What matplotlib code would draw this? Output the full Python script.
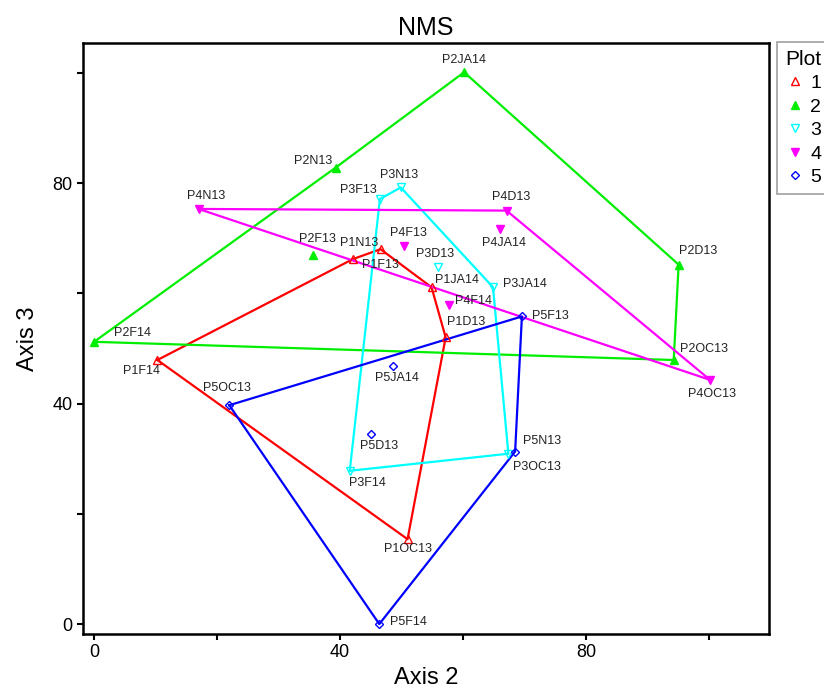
import numpy as np
import matplotlib
matplotlib.use("Agg")
import matplotlib.pyplot as plt
from matplotlib.lines import Line2D

plt.rcParams['font.family'] = ['Liberation Sans', 'DejaVu Sans']

# dati NMS (Axis 2, Axis 3) per ogni plot
p1_names = ["P1N13", "P1F13", "P1JA14", "P1D13", "P1OC13", "P1F14"]
p1_x = [42.1, 46.6, 54.9, 57.2, 51.0, 10.3]
p1_y = [66.2, 68.0, 61.1, 52.0, 15.4, 47.9]
p1_hull = ["P1F14", "P1N13", "P1F13", "P1JA14", "P1D13", "P1OC13"]

p2_names = ["P2JA14", "P2N13", "P2F13", "P2F14", "P2D13", "P2OC13"]
p2_x = [60.2, 39.3, 35.6, 0.0, 95.1, 94.3]
p2_y = [100.1, 82.8, 67.0, 51.2, 65.2, 47.9]
p2_hull = ["P2F14", "P2N13", "P2JA14", "P2D13", "P2OC13"]

p3_names = ["P3N13", "P3F13", "P3D13", "P3JA14", "P3OC13", "P3F14"]
p3_x = [49.9, 46.5, 56.0, 64.9, 67.4, 41.6]
p3_y = [79.2, 77.1, 64.8, 61.1, 30.9, 27.8]
p3_hull = ["P3F14", "P3F13", "P3N13", "P3JA14", "P3OC13"]

p4_names = ["P4N13", "P4D13", "P4F13", "P4JA14", "P4F14", "P4OC13"]
p4_x = [17.0, 67.1, 50.4, 66.0, 57.7, 100.2]
p4_y = [75.3, 75.0, 68.5, 71.7, 57.9, 44.3]
p4_hull = ["P4N13", "P4D13", "P4OC13"]

p5_names = ["P5F13", "P5N13", "P5F14", "P5OC13", "P5JA14", "P5D13"]
p5_x = [69.6, 68.5, 46.4, 22.0, 48.7, 45.0]
p5_y = [55.8, 31.3, 0.0, 39.7, 46.8, 34.5]
p5_hull = ["P5OC13", "P5F13", "P5N13", "P5F14"]

legend_labels = ["1", "2", "3", "4", "5"]

# spostamento etichette (pixel)
offs = {
    "P1N13": (6, 16), "P1F13": (0, -16), "P1JA14": (25, 7), "P1D13": (20, 15),
    "P1F14": (-16, -11), "P1OC13": (0, -10),
    "P2JA14": (0, 12), "P2N13": (-23, 7), "P2F13": (5, 16), "P2F14": (38, 9),
    "P2D13": (19, 14), "P2OC13": (30, 11),
    "P3N13": (-2, 12), "P3F13": (-22, 9), "P3D13": (-3, 13), "P3JA14": (32, 3),
    "P3OC13": (29, -13), "P3F14": (18, -12),
    "P4N13": (8, 13), "P4D13": (5, 14), "P4F13": (5, 13), "P4JA14": (4, -14),
    "P4F14": (25, 4), "P4OC13": (2, -14),
    "P5F13": (28, 0), "P5N13": (27, 11), "P5F14": (29, 2), "P5OC13": (-2, 17),
    "P5JA14": (4, -12), "P5D13": (8, -12),
}

gruppi = [
    (p1_names, p1_x, p1_y, p1_hull, "#ff0000", "^", False, 6),
    (p2_names, p2_x, p2_y, p2_hull, "#00ee00", "^", True, 6),
    (p3_names, p3_x, p3_y, p3_hull, "#00ffff", "v", False, 6),
    (p4_names, p4_x, p4_y, p4_hull, "#ff00ff", "v", True, 6),
    (p5_names, p5_x, p5_y, p5_hull, "#0000ff", "D", False, 4.5),
]

fig = plt.figure(figsize=(8.24, 6.9), dpi=100)
ax = fig.add_axes([83/824, 1-634/690, (769-83)/824, (634-43)/690])

handles = []
for names, xs, ys, hull, col, mk, filled, ms in gruppi:
    pos = dict(zip(names, zip(xs, ys)))
    hx = [pos[n][0] for n in hull] + [pos[hull[0]][0]]
    hy = [pos[n][1] for n in hull] + [pos[hull[0]][1]]
    ax.plot(hx, hy, color=col, lw=1.6, zorder=2)
    fc = col if filled else "none"
    ax.plot(xs, ys, ls="none", marker=mk, ms=ms, mfc=fc, mec=col, mew=1.0, zorder=3)
    for n, x, y in zip(names, xs, ys):
        dx, dy = offs[n]
        ax.annotate(n, (x, y), xytext=(dx, dy), textcoords="offset pixels",
                    ha="center", va="center", fontsize=9, color="#222222")
    handles.append(Line2D([], [], ls="none", marker=mk, ms=ms, mfc=fc, mec=col, mew=1.0))

ax.set_xlim(-1.8, 109.8)
ax.set_ylim(-1.8, 105.4)
ax.set_xticks([0, 20, 40, 60, 80, 100])
ax.set_xticklabels(["0", "", "40", "", "80", ""])
ax.set_yticks([0, 20, 40, 60, 80, 100])
ax.set_yticklabels(["0", "", "40", "", "80", ""])
ax.tick_params(labelsize=13, length=4, width=1.5, direction="out")
for s in ax.spines.values():
    s.set_linewidth(1.8)

ax.set_xlabel("Axis 2", fontsize=17, labelpad=4)
ax.set_ylabel("Axis 3", fontsize=17, labelpad=10)
ax.set_title("NMS", fontsize=18, pad=6)

leg = fig.legend(handles, legend_labels, title="Plot", loc="upper left",
                 bbox_to_anchor=(777/824, 1-42/690), borderaxespad=0,
                 fontsize=14, title_fontsize=15,
                 fancybox=False, edgecolor="#888888", handletextpad=0.3,
                 handlelength=1.0, labelspacing=0.3, borderpad=0.4)
leg._legend_box.align = "left"
leg.get_frame().set_linewidth(1.2)

fig.savefig("out.png", dpi=100)
